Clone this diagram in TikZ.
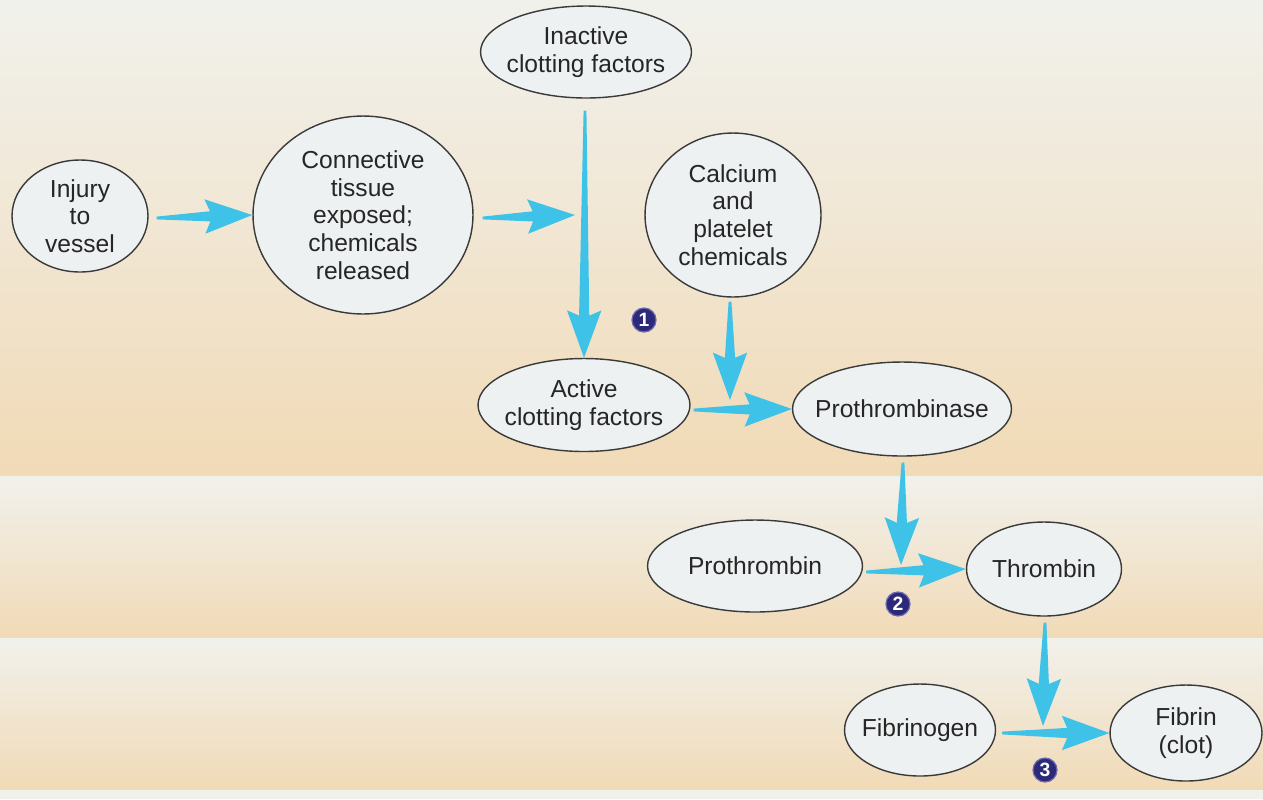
\documentclass[tikz,border=0pt]{standalone}
\usepackage{fontspec}
\setmainfont{Liberation Sans}
\usetikzlibrary{shapes.geometric,calc}
\definecolor{arrowc}{HTML}{3FC2E8}
\definecolor{bubfill}{HTML}{EEF1F1}
\definecolor{bubdraw}{HTML}{3A3A3A}
\definecolor{txt}{HTML}{262626}
\definecolor{navy}{HTML}{2C2A78}
\definecolor{navyedge}{HTML}{6A68B0}
\definecolor{bgwhite}{HTML}{F1F1EC}
\definecolor{bgbeige}{HTML}{F1DAB6}
\newcommand\fatarrow[2]{%
  \fill[arrowc] let \p1=(#1), \p2=(#2),
     \n1={atan2(\y2-\y1,\x2-\x1)}, \n2={veclen(\x2-\x1,\y2-\y1)} in
     [shift={(\p1)}, rotate=\n1]
     (0pt,0.8pt) -- ({\n2-24pt},2.9pt) -- ({\n2-27pt},9.8pt) -- (\n2,0pt)
     -- ({\n2-27pt},-9.8pt) -- ({\n2-24pt},-2.9pt) -- (0pt,-0.8pt) -- cycle;}
\tikzset{
  bub/.style={ellipse, draw=bubdraw, line width=0.8pt, fill=bubfill, inner sep=0pt},
  bubtext/.style={inner sep=0pt, align=center, text=txt, font=\fontsize{14}{15.8}\selectfont},
  numc/.style={circle, fill=navy, draw=navyedge, line width=0.7pt, inner sep=0pt,
    minimum size=0.48cm, text=white, font=\bfseries\fontsize{11}{11}\selectfont}
}
\begin{document}
\begin{tikzpicture}[x=0.02cm, y=-0.02cm]
\useasboundingbox (0,0) rectangle (1263,799);
% background bands
\fill[bgwhite] (0,0) rectangle (1263,799);
\shade[top color=bgwhite, bottom color=bgwhite!60!bgbeige] (0,0) rectangle (1263,200);
\shade[top color=bgwhite!60!bgbeige, bottom color=bgbeige] (0,200) rectangle (1263,476);
\shade[top color=bgwhite, bottom color=bgbeige] (0,476) rectangle (1263,638);
\shade[top color=bgwhite, bottom color=bgbeige] (0,638) rectangle (1263,790);
\fill[bgwhite] (0,790) rectangle (1263,799);

% nodes
\node[bub, minimum width=2.72cm, minimum height=2.24cm,
  label={[bubtext]center:Injury\\to\\vessel}] (inj) at (80,216) {};
\node[bub, minimum width=4.40cm, minimum height=3.96cm,
  label={[bubtext]center:Connective\\tissue\\exposed;\\chemicals\\released}] (con) at (363,215) {};
\node[bub, minimum width=4.22cm, minimum height=1.84cm,
  label={[bubtext]center:Inactive\\clotting factors}] (inact) at (586,52) {};
\node[bub, minimum width=3.52cm, minimum height=3.28cm,
  label={[bubtext]center:Calcium\\and\\platelet\\chemicals}] (calc) at (733,215) {};
\node[bub, minimum width=4.24cm, minimum height=1.86cm,
  label={[bubtext]center:Active\\clotting factors}] (act) at (584,405) {};
\node[bub, minimum width=4.38cm, minimum height=1.88cm,
  label={[bubtext]center:Prothrombinase}] (prob) at (902,409) {};
\node[bub, minimum width=4.30cm, minimum height=1.84cm,
  label={[bubtext]center:Prothrombin}] (proth) at (755,566) {};
\node[bub, minimum width=3.10cm, minimum height=1.88cm,
  label={[bubtext]center:Thrombin}] (thr) at (1044,569) {};
\node[bub, minimum width=3.02cm, minimum height=1.84cm,
  label={[bubtext]center:Fibrinogen}] (fgn) at (920,730) {};
\node[bub, minimum width=3.04cm, minimum height=1.92cm,
  label={[bubtext]center:Fibrin\\(clot)}] (fib) at (1186,733) {};

% merge points
\coordinate (m1) at (575,215);
\coordinate (m2) at (730,400);
\coordinate (m3) at (901,565);
\coordinate (m4) at (1043,726);

% arrows
\fatarrow{$(inj.east)+(8,2)$}{con.west}
\fatarrow{$(con.east)+(9,3)$}{m1}
\fatarrow{$(inact.south)+(-1,12)$}{act.north}
\fatarrow{$(calc.south)+(-3,4)$}{m2}
\fatarrow{$(act.east)+(3,5)$}{prob.west}
\fatarrow{$(prob.south)+(1,6)$}{m3}
\fatarrow{$(proth.east)+(3,6)$}{thr.west}
\fatarrow{$(thr.south)+(1,6)$}{m4}
\fatarrow{$(fgn.east)+(6,3)$}{fib.west}

% step numbers
\node[numc] (n1) at (644,320) {1};
\node[numc] (n2) at (898,604) {2};
\node[numc] (n3) at (1045,770) {3};
\end{tikzpicture}
\end{document}
